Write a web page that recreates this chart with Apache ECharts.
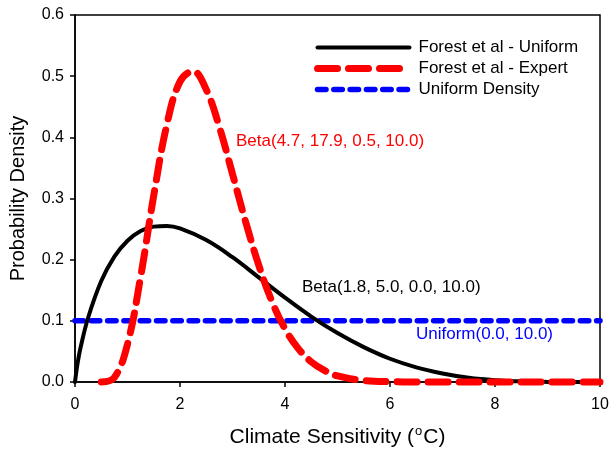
<!DOCTYPE html>
<html>
<head>
<meta charset="utf-8">
<script src="https://cdn.jsdelivr.net/npm/echarts@6/dist/echarts.min.js"></script>
<style>
  html, body { margin: 0; padding: 0; background: #fff; }
  #chart { width: 616px; height: 449px; }
</style>
</head>
<body>
<div id="chart"></div>
<script>
// values
const seriesNames = ['Forest et al - Uniform', 'Forest et al - Expert', 'Uniform Density'];

const uniformFitX = [0, 0.05, 0.1, 0.25, 0.5, 0.75, 1, 1.25, 1.5, 1.75, 2, 2.5, 3, 3.5, 4, 4.5, 5, 5.5, 6, 6.5, 7, 7.5, 8, 8.5, 9, 9.5, 10];
const uniformFitY = [0, 0.031, 0.054, 0.105, 0.165, 0.205, 0.231, 0.247, 0.254, 0.255, 0.251, 0.232, 0.204, 0.171, 0.138, 0.107, 0.080, 0.057, 0.038, 0.024, 0.014, 0.007, 0.003, 0.001, 0.0002, 0, 0];

const expertFitX = [0.5, 0.75, 1, 1.25, 1.5, 1.75, 2, 2.25, 2.5, 2.75, 3, 3.25, 3.5, 3.75, 4, 4.25, 4.5, 4.75, 5, 5.5, 6, 6.5, 7, 8, 9, 10];
const expertFitY = [0, 0.0075, 0.062, 0.172, 0.305, 0.421, 0.491, 0.508, 0.478, 0.417, 0.340, 0.262, 0.191, 0.132, 0.087, 0.055, 0.033, 0.019, 0.010, 0.0025, 0.0005, 0.0001, 0, 0, 0, 0];

const uniformDensityX = [0, 10];
const uniformDensityY = [0.1, 0.1];

const pairs = (xs, ys) => xs.map((x, i) => [x, ys[i]]);

let myChart = echarts.init(document.getElementById('chart'));
const font = 'Liberation Sans, Arial, sans-serif';

myChart.setOption({
  animation: false,
  textStyle: { fontFamily: font },
  grid: {
    left: 75,
    right: 16,
    top: 15,
    bottom: 67,
    outerBoundsMode: 'none',
    containLabel: false,
    show: true,
    borderColor: '#000',
    borderWidth: 1.5
  },
  legend: {
    orient: 'vertical',
    left: 309,
    top: 34,
    itemWidth: 92,
    itemHeight: 14,
    itemGap: 4,
    data: seriesNames,
    itemStyle: { opacity: 0 },
    lineStyle: { width: 'inherit' },
    textStyle: {
      fontFamily: font,
      fontSize: 17,
      color: '#000',
      padding: [0, 0, 0, 4]
    }
  },
  xAxis: {
    type: 'value',
    min: 0,
    max: 10,
    interval: 2,
    name: '{a|Climate Sensitivity (}{s|o}{a|C)}',
    nameLocation: 'middle',
    nameGap: 43,
    nameTextStyle: {
      rich: {
        a: { fontSize: 21, fontFamily: font, color: '#000', verticalAlign: 'bottom', height: 22 },
        s: { fontSize: 13, fontFamily: font, color: '#000', verticalAlign: 'bottom', padding: [0, 1, 10, 1] }
      }
    },
    axisLine: { lineStyle: { color: '#000', width: 1.5 } },
    axisTick: { length: 5, lineStyle: { color: '#000', width: 1.5 } },
    axisLabel: { color: '#000', fontSize: 16, margin: 15 },
    splitLine: { show: false }
  },
  yAxis: {
    type: 'value',
    min: 0,
    max: 0.6,
    interval: 0.1,
    name: 'Probability Density',
    nameLocation: 'middle',
    nameGap: 47,
    nameTextStyle: { fontSize: 20, color: '#000' },
    axisLine: { show: true, lineStyle: { color: '#000', width: 1.5 } },
    axisTick: { show: true, length: 5, lineStyle: { color: '#000', width: 1.5 } },
    axisLabel: {
      color: '#000',
      fontSize: 16,
      margin: 11,
      formatter: v => v.toFixed(1)
    },
    splitLine: { show: false }
  },
  graphic: [
    { type: 'text', left: 236, top: 133, style: { text: 'Beta(4.7, 17.9, 0.5, 10.0)', fill: '#ff0000', font: '17px ' + font } },
    { type: 'text', left: 302, top: 279, style: { text: 'Beta(1.8, 5.0, 0.0, 10.0)', fill: '#000', font: '17px ' + font } },
    { type: 'text', left: 416, top: 326, style: { text: 'Uniform(0.0, 10.0)', fill: '#0000ff', font: '17px ' + font } }
  ],
  series: [
    {
      name: seriesNames[0],
      type: 'line',
      z: 3,
      clip: false,
      showSymbol: false,
      symbol: 'none',
      smooth: 0.4,
      data: pairs(uniformFitX, uniformFitY),
      lineStyle: { color: '#000', width: 4, cap: 'round' },
      itemStyle: { color: '#000' }
    },
    {
      name: seriesNames[1],
      type: 'line',
      z: 4,
      clip: false,
      showSymbol: false,
      symbol: 'none',
      smooth: 0.4,
      data: pairs(expertFitX, expertFitY),
      lineStyle: { color: '#ff0000', width: 7, type: [20, 11], cap: 'round' },
      itemStyle: { color: '#ff0000' }
    },
    {
      name: seriesNames[2],
      type: 'line',
      z: 2,
      clip: false,
      showSymbol: false,
      symbol: 'none',
      data: pairs(uniformDensityX, uniformDensityY),
      lineStyle: { color: '#0000ff', width: 5.5, type: [8.5, 7.8], cap: 'round' },
      itemStyle: { color: '#0000ff' }
    }
  ]
});
</script>
</body>
</html>
